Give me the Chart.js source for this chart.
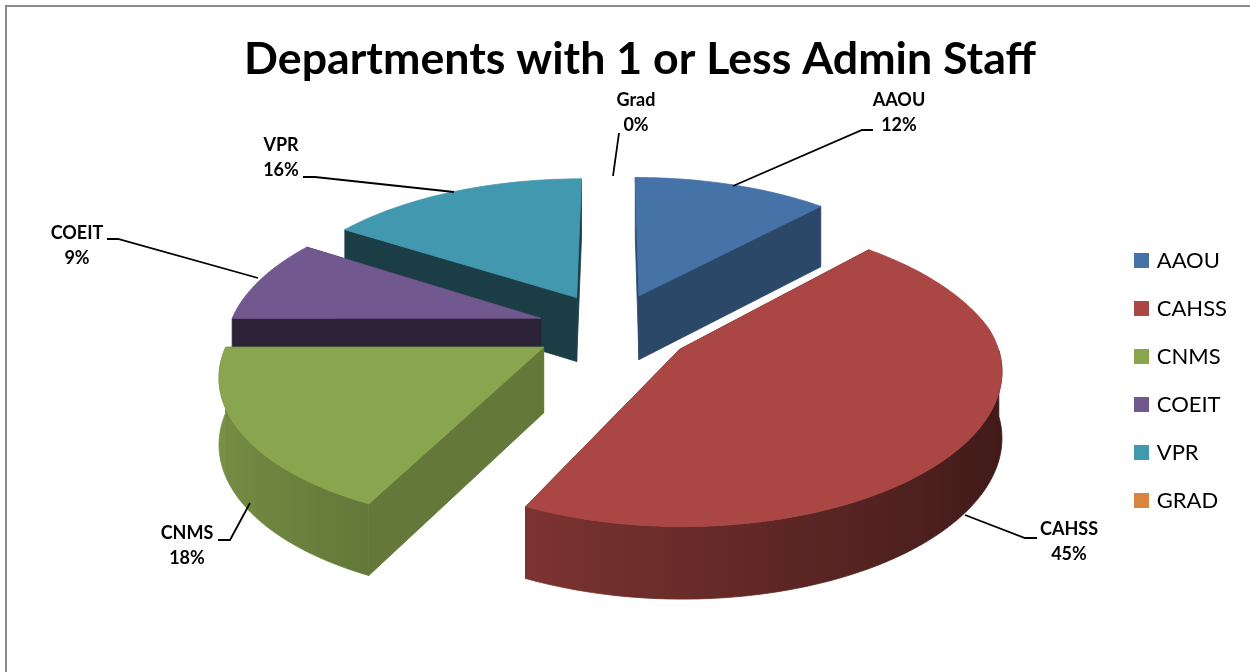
<!DOCTYPE html>
<html>
<head>
<meta charset="utf-8">
<title>Departments with 1 or Less Admin Staff</title>
<script src="https://cdn.jsdelivr.net/npm/chart.js@4"></script>
<style>
  html, body { margin: 0; padding: 0; background: #fff; }
  #box { position: relative; width: 1250px; height: 672px; }
</style>
</head>
<body>
<div id="box"><canvas id="staffChart"></canvas></div>
<script>
var legendNames = ['AAOU', 'CAHSS', 'CNMS', 'COEIT', 'VPR', 'GRAD'];
var sliceNames = ['AAOU', 'CAHSS', 'CNMS', 'COEIT', 'VPR', 'Grad'];
var values = [12, 45, 18, 9, 16, 0];
var colors = ['#4572A7', '#AA4643', '#89A54E', '#71588F', '#4198AF', '#DB843D'];
var explode = [76, 82, 78, 75, 76, 68];
var edgeShade = [0.63, 0.5, 0.73, 0.4, 0.4, 0.5];

// back slices first so the front ones paint over them
var drawOrder = [4, 0, 3, 2, 1];

// fake 3d view of the pie
var view = { cx: 612, cy: 328, radius: 312, tilt: 0.45, backTilt: 0.4725, depth: 1900, frontSpread: 0.85, frontShear: 0.03, height: 65 };

// label text centre, then the leader line running to the slice
var labelSpots = [
  { x: 899, y: 113, line: [[733, 186], [862, 130], [873, 130]] },
  { x: 1069, y: 542, line: [[965, 515], [1025, 538], [1037, 538]] },
  { x: 187, y: 546, line: [[250, 503], [230, 540], [218, 540]] },
  { x: 77, y: 246, line: [[258, 278], [118, 239], [107, 239]] },
  { x: 281, y: 158, line: [[454, 192], [315, 177], [303, 177]] },
  { x: 636, y: 113, line: [[613, 176], [619, 133]] }
];

function project(x, y, z) {
  var s = 1 / (1 - y / view.depth);
  var sx = s < 1 ? s : 1 + (s - 1) * view.frontSpread;
  var tilt = y < 0 ? view.backTilt : view.tilt;
  var shear = y > 0 ? y * view.frontShear : 0;
  return [view.cx + x * sx - shear, view.cy + y * tilt * s + z * (s + 1) / 2];
}

function shadeColor(hex, f) {
  var n = parseInt(hex.slice(1), 16);
  var r = Math.round((n >> 16 & 255) * f);
  var g = Math.round((n >> 8 & 255) * f);
  var b = Math.round((n & 255) * f);
  return 'rgb(' + r + ',' + g + ',' + b + ')';
}

function fillPoly(ctx, pts, color) {
  ctx.beginPath();
  pts.forEach(function(p, i) {
    if (i === 0) ctx.moveTo(p[0], p[1]);
    else ctx.lineTo(p[0], p[1]);
  });
  ctx.closePath();
  ctx.fillStyle = color;
  ctx.strokeStyle = color;
  ctx.lineWidth = 0.8;
  ctx.fill();
  ctx.stroke();
}

function drawWall(ctx, rim, i) {
  var front = rim.filter(function(p) { return Math.sin(p.a) >= 0; });
  if (front.length < 2) return;
  var x0 = project(front[0].x, front[0].y, 0)[0];
  var x1 = project(front[front.length - 1].x, front[front.length - 1].y, 0)[0];
  var grad = ctx.createLinearGradient(x0, 0, x1, 0);
  var pts = [];
  front.forEach(function(p) {
    var t = (project(p.x, p.y, 0)[0] - x0) / (x1 - x0);
    grad.addColorStop(Math.min(1, Math.max(0, t)), shadeColor(colors[i], 0.62 - 0.25 * Math.cos(p.a)));
    pts.push(project(p.x, p.y, 0));
  });
  front.slice().reverse().forEach(function(p) {
    pts.push(project(p.x, p.y, view.height));
  });
  fillPoly(ctx, pts, grad);
}

function drawSlice(ctx, arc, i) {
  var start = arc.startAngle, end = arc.endAngle;
  var mid = (start + end) / 2;
  var ax = Math.cos(mid) * explode[i];
  var ay = Math.sin(mid) * explode[i];
  var steps = Math.max(8, Math.round((end - start) * 40));
  var rim = [];
  for (var k = 0; k <= steps; k++) {
    var a = start + (end - start) * k / steps;
    rim.push({ a: a, x: ax + Math.cos(a) * view.radius, y: ay + Math.sin(a) * view.radius });
  }
  var first = rim[0], last = rim[steps];
  var edge = shadeColor(colors[i], edgeShade[i]);

  // flat cut faces
  fillPoly(ctx, [project(ax, ay, 0), project(first.x, first.y, 0),
    project(first.x, first.y, view.height), project(ax, ay, view.height)], edge);
  fillPoly(ctx, [project(ax, ay, 0), project(last.x, last.y, 0),
    project(last.x, last.y, view.height), project(ax, ay, view.height)], edge);

  drawWall(ctx, rim, i);

  // top
  var top = [project(ax, ay, 0)];
  rim.forEach(function(p) { top.push(project(p.x, p.y, 0)); });
  fillPoly(ctx, top, colors[i]);
}

// square legend swatch, so it can sit closer to its text than the default box
function swatch(color) {
  var c = document.createElement('canvas');
  c.width = 15;
  c.height = 15;
  var g = c.getContext('2d');
  g.fillStyle = color;
  g.fillRect(0, 0, 15, 15);
  return c;
}

var pie3d = {
  id: 'pie3d',
  beforeDraw: function(chart) {
    var ctx = chart.ctx;
    ctx.save();
    ctx.strokeStyle = '#8c8c8c';
    ctx.lineWidth = 2;
    ctx.strokeRect(6, 6, 1400, 900);
    ctx.restore();
  },
  beforeDatasetsDraw: function(chart) {
    var ctx = chart.ctx;
    var arcs = chart.getDatasetMeta(0).data;
    ctx.save();
    drawOrder.forEach(function(i) { drawSlice(ctx, arcs[i], i); });
    ctx.restore();
    return false;
  },
  afterDraw: function(chart) {
    var ctx = chart.ctx;
    var total = values.reduce(function(a, b) { return a + b; }, 0);
    ctx.save();
    ctx.strokeStyle = '#000';
    ctx.lineWidth = 1.8;
    ctx.fillStyle = '#000';
    ctx.font = 'bold 18px Lato';
    ctx.textAlign = 'center';
    ctx.textBaseline = 'middle';
    labelSpots.forEach(function(spot, i) {
      ctx.beginPath();
      spot.line.forEach(function(p, k) {
        if (k === 0) ctx.moveTo(p[0], p[1]);
        else ctx.lineTo(p[0], p[1]);
      });
      ctx.stroke();
      ctx.fillText(sliceNames[i], spot.x, spot.y - 13);
      ctx.fillText(Math.round(values[i] / total * 100) + '%', spot.x, spot.y + 12);
    });
    ctx.restore();
  }
};

document.addEventListener('DOMContentLoaded', function() {
  var ctx = document.getElementById('staffChart').getContext('2d');
  new Chart(ctx, {
    type: 'pie',
    data: {
      labels: legendNames,
      datasets: [{ data: values, backgroundColor: colors, borderWidth: 0 }]
    },
    options: {
      responsive: true,
      maintainAspectRatio: false,
      animation: false,
      layout: { padding: { left: 43, right: 13, bottom: 7 } },
      plugins: {
        title: {
          display: true,
          text: 'Departments with 1 or Less Admin Staff',
          color: '#000',
          font: { family: 'Lato', size: 44.7, weight: 'bold' },
          padding: { top: 33, bottom: 10 }
        },
        legend: {
          position: 'right',
          fullSize: false,
          labels: {
            color: '#000',
            font: { family: 'Lato', size: 22 },
            usePointStyle: true,
            pointStyleWidth: 8,
            padding: 26,
            generateLabels: function(chart) {
              return legendNames.map(function(name, i) {
                return {
                  text: name,
                  index: i,
                  fontColor: '#000',
                  fillStyle: colors[i],
                  strokeStyle: colors[i],
                  lineWidth: 0,
                  pointStyle: swatch(colors[i])
                };
              });
            }
          }
        },
        tooltip: { enabled: false }
      }
    },
    plugins: [pie3d]
  });
});
</script>
</body>
</html>
